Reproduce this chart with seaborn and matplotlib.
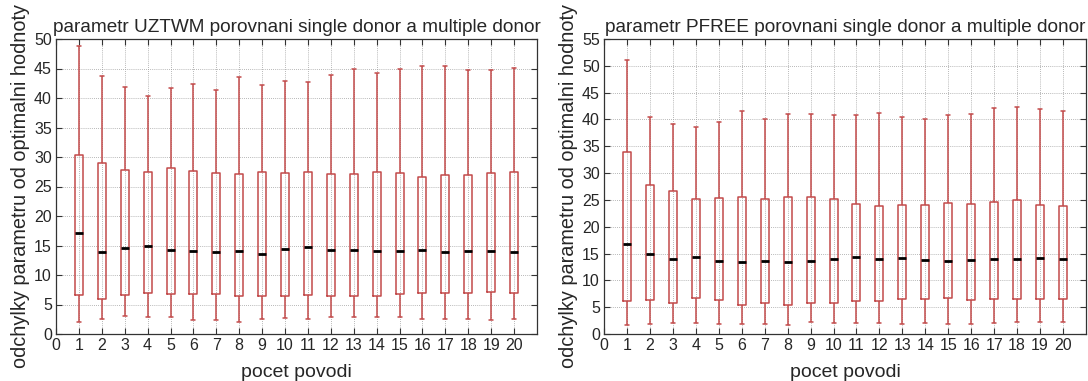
import numpy as np
import pandas as pd
import matplotlib
matplotlib.use("Agg")
import matplotlib.pyplot as plt
import seaborn as sns

# number of catchments used as donors
pocet = list(range(1, 21))

# UZTWM: five-number summaries (min, lower quartile, median, upper quartile, max)
uztwm_min = [2.0, 2.5, 3.0, 2.8, 2.8, 2.3, 2.4, 2.1, 2.5, 2.7,
             2.6, 2.8, 2.8, 2.8, 2.9, 2.5, 2.5, 2.6, 2.4, 2.5]
uztwm_q1 = [6.6, 6.0, 6.6, 7.0, 6.7, 6.8, 6.7, 6.4, 6.5, 6.5,
            6.6, 6.5, 6.5, 6.5, 6.8, 6.9, 7.0, 6.9, 7.2, 7.0]
uztwm_med = [17.1, 13.9, 14.5, 14.9, 14.3, 14.0, 13.9, 14.1, 13.6, 14.4,
             14.7, 14.3, 14.3, 14.0, 14.0, 14.2, 13.9, 14.0, 14.1, 13.9]
uztwm_q3 = [30.4, 28.9, 27.8, 27.5, 28.2, 27.7, 27.3, 27.2, 27.5, 27.3,
            27.5, 27.1, 27.1, 27.5, 27.3, 26.6, 26.9, 26.9, 27.3, 27.4]
uztwm_max = [48.8, 43.7, 41.9, 40.4, 41.7, 42.4, 41.3, 43.5, 42.2, 42.8,
             42.7, 43.9, 44.9, 44.3, 44.9, 45.5, 45.4, 44.8, 44.7, 45.1]

# PFREE: five-number summaries
pfree_min = [1.6, 1.9, 2.1, 2.1, 1.9, 1.9, 1.9, 1.7, 2.2, 2.1,
             2.0, 2.1, 1.9, 2.0, 1.9, 1.8, 2.1, 2.2, 2.3, 2.2]
pfree_q1 = [6.1, 6.4, 5.7, 6.8, 6.4, 5.4, 5.7, 5.4, 5.8, 5.8,
            6.2, 6.2, 6.5, 6.5, 6.7, 6.3, 6.5, 6.6, 6.5, 6.5]
pfree_med = [16.7, 14.9, 13.9, 14.3, 13.7, 13.4, 13.6, 13.5, 13.6, 14.0,
             14.3, 13.9, 14.1, 13.8, 13.6, 13.8, 14.0, 13.9, 14.1, 13.9]
pfree_q3 = [34.0, 27.7, 26.6, 25.1, 25.3, 25.5, 25.2, 25.6, 25.5, 25.1,
            24.3, 23.8, 24.0, 24.0, 24.5, 24.3, 24.6, 24.9, 24.0, 23.8]
pfree_max = [51.0, 40.5, 39.1, 38.6, 39.5, 41.5, 40.0, 41.0, 41.1, 40.8,
             40.9, 41.2, 40.4, 40.1, 40.9, 41.0, 42.2, 42.3, 42.0, 41.5]

titles = ["parametr UZTWM porovnani single donor a multiple donor",
          "parametr PFREE porovnani single donor a multiple donor"]
xlabel = "pocet povodi"
ylabel = "odchylky parametru od optimalni hodnoty"


def long_table(mins, q1s, meds, q3s, maxs):
    rows = []
    for n, a, b, c, d, e in zip(pocet, mins, q1s, meds, q3s, maxs):
        # five points whose quartiles equal the summary exactly
        for v in (a, b, c, d, e):
            rows.append({"n": n, "v": v})
    return pd.DataFrame(rows)


tables = [long_table(uztwm_min, uztwm_q1, uztwm_med, uztwm_q3, uztwm_max),
          long_table(pfree_min, pfree_q1, pfree_med, pfree_q3, pfree_max)]
ylims = [(0, 50), (0, 55)]

sns.set_style("ticks")
plt.rcParams["font.family"] = ["Liberation Sans", "DejaVu Sans"]
plt.rcParams["xtick.direction"] = "in"
plt.rcParams["ytick.direction"] = "in"

fig = plt.figure(figsize=(10.88, 3.81), dpi=100)
positions = [[56 / 1088, 1 - 334 / 381, (537 - 56) / 1088, (334 - 39) / 381],
             [604 / 1088, 1 - 334 / 381, (1086 - 604) / 1088, (334 - 39) / 381]]

box_color = "#c24a4a"
for pos, df, title, ylim in zip(positions, tables, titles, ylims):
    ax = fig.add_axes(pos)
    ax.set_axisbelow(True)
    ax.grid(True, color="#a0a0a0", linestyle=(0, (1, 1.5)), linewidth=0.6)
    sns.boxplot(data=df, x="n", y="v", native_scale=True, whis=(0, 100),
                width=0.35, fill=False, color=box_color, linewidth=1.1,
                medianprops=dict(color="black", linewidth=2.0),
                ax=ax)
    ax.set_xlim(0, 21)
    ax.set_ylim(*ylim)
    ax.set_xticks(range(0, 21))
    ax.set_xticklabels([str(i) for i in range(0, 21)])
    ax.set_yticks(np.arange(ylim[0], ylim[1] + 0.1, 5))
    ax.tick_params(axis="both", which="both", top=True, right=True,
                   length=4, width=0.8, labelsize=11.5, color="#333333",
                   pad=3)
    for s in ax.spines.values():
        s.set_visible(True)
        s.set_color("#333333")
        s.set_linewidth(0.9)
    ax.set_title(title, fontsize=13.7, pad=5)
    ax.set_xlabel(xlabel, fontsize=14, labelpad=8)
    ax.set_ylabel(ylabel, fontsize=14.3, labelpad=3)

fig.savefig("out.png", dpi=100)
